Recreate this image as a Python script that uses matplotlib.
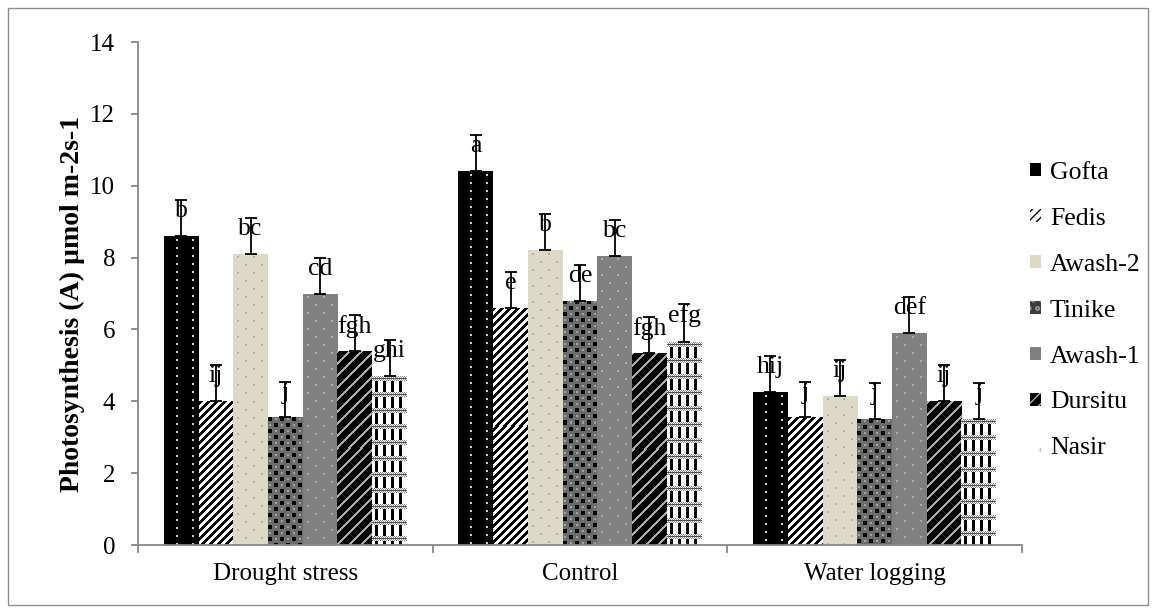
import matplotlib
matplotlib.use("Agg")
import matplotlib.pyplot as plt
import numpy as np
from matplotlib.colors import to_rgb
from matplotlib.patches import Patch, Rectangle

plt.rcParams["font.family"] = ["Liberation Serif", "DejaVu Serif"]

groups = ["Drought stress", "Control", "Water logging"]
cultivars = ["Gofta", "Fedis", "Awash-2", "Tinike", "Awash-1", "Dursitu", "Nasir"]

# photosynthesis per cultivar, one value per group
gofta = [8.6, 10.4, 4.25]
fedis = [4.0, 6.6, 3.55]
awash2 = [8.1, 8.2, 4.15]
tinike = [3.55, 6.8, 3.5]
awash1 = [7.0, 8.05, 5.9]
dursitu = [5.4, 5.35, 4.0]
nasir = [4.7, 5.65, 3.5]

# upper error bars, per group (cultivar order)
drought_err = [1.0, 1.0, 1.0, 1.0, 1.0, 1.0, 1.0]
control_err = [1.0, 1.0, 1.0, 1.0, 1.0, 1.0, 1.05]
waterlog_err = [1.0, 1.0, 1.0, 1.0, 1.0, 1.0, 1.0]

# mean separation letters, per group (cultivar order)
drought_letters = ["b", "ij", "bc", "j", "cd", "fgh", "ghi"]
control_letters = ["a", "e", "b", "de", "bc", "fgh", "efg"]
waterlog_letters = ["hij", "j", "ij", "j", "def", "ij", "j"]

series = [gofta, fedis, awash2, tinike, awash1, dursitu, nasir]
errs = np.array([drought_err, control_err, waterlog_err]).T
letters = np.array([drought_letters, control_letters, waterlog_letters]).T


def rgb(c):
    return np.array(to_rgb(c))


# small pixel tiles imitating the spreadsheet pattern fills
def tile_gofta():
    t = np.tile(rgb("#000000"), (8, 16, 1))
    t[3:5, 12:14] = rgb("#d0d0d0")
    return t


def tile_fedis():
    r, c = np.mgrid[0:8, 0:8]
    t = np.tile(rgb("#ffffff"), (8, 8, 1))
    t[(r + c) % 8 < 4] = rgb("#000000")
    return t


def tile_dots(bg, dot):
    t = np.tile(rgb(bg), (16, 16, 1))
    t[3:5, 4:6] = rgb(dot)
    t[11:13, 12:14] = rgb(dot)
    return t


def tile_tinike():
    t = np.tile(rgb("#6c6c6c"), (12, 12, 1))
    t[0:4, 0:4] = rgb("#000000")
    t[6:10, 6:10] = rgb("#000000")
    t[1:3, 7:9] = rgb("#a0a0a0")
    t[7:9, 1:3] = rgb("#a0a0a0")
    return t


def tile_dursitu():
    r, c = np.mgrid[0:12, 0:12]
    t = np.tile(rgb("#000000"), (12, 12, 1))
    t[(r + c) % 12 < 3] = rgb("#a8a8a8")
    return t


def tile_nasir():
    t = np.tile(rgb("#ffffff"), (16, 16, 1))
    r, c = np.mgrid[0:5, 0:16]
    band = np.where(((r + c) % 2 == 0)[..., None], rgb("#8a8a8a"), rgb("#ffffff"))
    band[2] = rgb("#505050")
    t[0:5] = band
    t[5:16, 3:6] = rgb("#000000")
    t[5:16, 11:14] = rgb("#000000")
    return t


tiles = [
    tile_gofta(),
    tile_fedis(),
    tile_dots("#ddd9c4", "#9bb7d6"),
    tile_tinike(),
    tile_dots("#808080", "#aaaaaa"),
    tile_dursitu(),
    tile_nasir(),
]

fig = plt.figure(figsize=(11.56, 6.13), dpi=100)
ax = fig.add_axes([138 / 1156, 1 - 545 / 613, (1022 - 138) / 1156, (545 - 42) / 613])
ax.set_xlim(-0.5, 2.5)
ax.set_ylim(0, 14)

n = len(cultivars)
bw = 0.825 / n
x = np.arange(len(groups))

for i, vals in enumerate(series):
    xs = x + (i - (n - 1) / 2) * bw
    bars = ax.bar(xs, vals, bw, color="none", linewidth=0, zorder=2)
    for rect in bars:
        x0, y0 = rect.get_x(), rect.get_y()
        x1, y1 = x0 + rect.get_width(), y0 + rect.get_height()
        (px0, py0), (px1, py1) = ax.transData.transform([(x0, y0), (x1, y1)])
        w = max(1, int(round(px1 - px0)))
        h = max(1, int(round(py1 - py0)))
        t = tiles[i]
        img = np.tile(t, (h // t.shape[0] + 1, w // t.shape[1] + 1, 1))[:h, :w]
        im = ax.imshow(img, extent=(x0, x1, y0, y1), interpolation="nearest",
                       aspect="auto", zorder=1.5)
        im.set_clip_path(rect)
    ax.errorbar(xs, vals, yerr=[np.zeros(len(vals)), errs[i]], fmt="none",
                ecolor="black", elinewidth=1.3, capsize=4, capthick=1.3, zorder=3)
    for xv, v, e, lab in zip(xs, vals, errs[i], letters[i]):
        ax.text(xv, v + e, lab, ha="center", va="top", fontsize=18.5, zorder=4)

ax.set_xlim(-0.5, 2.5)
ax.set_ylim(0, 14)
ax.set_yticks(np.arange(0, 15, 2))
ax.set_xticks(x)
ax.set_xticklabels(groups)
ax.set_xticks([-0.5, 0.5, 1.5, 2.5], minor=True)
ax.tick_params(axis="x", which="major", length=0, pad=13, labelsize=18)
ax.tick_params(axis="x", which="minor", length=6, width=1.3, color="#868686")
ax.tick_params(axis="y", length=5, width=1.3, color="#868686", pad=11.5, labelsize=18)

for side in ["top", "right"]:
    ax.spines[side].set_visible(False)
for side in ["left", "bottom"]:
    ax.spines[side].set_color("#868686")
    ax.spines[side].set_linewidth(1.3)

ax.set_ylabel("Photosynthesis (A) µmol m-2s-1", fontsize=20, fontweight="bold")
ax.yaxis.set_label_coords(-0.06, 0.48)

handles = [
    Patch(facecolor="black", edgecolor="black", linewidth=0),
    Patch(facecolor="white", edgecolor="black", hatch="////", linewidth=0),
    Patch(facecolor="#ddd9c4", linewidth=0),
    Patch(facecolor="#3c3c3c", edgecolor="#8a8a8a", hatch="oo", linewidth=0),
    Patch(facecolor="#808080", linewidth=0),
    Patch(facecolor="black", edgecolor="#a8a8a8", hatch="///", linewidth=0),
    Patch(facecolor="white", edgecolor="#bbbbbb", hatch=".", linewidth=0),
]
fig.legend(handles, cultivars, loc="upper left", bbox_to_anchor=(1030 / 1156, 1 - 162 / 613),
           frameon=False, fontsize=18.5, handlelength=0.42, handleheight=0.42,
           handletextpad=0.35, labelspacing=0.93, borderpad=0, borderaxespad=0)

fig.patches.append(Rectangle((8 / 1156, 8 / 613), 1140 / 1156, 597 / 613,
                             transform=fig.transFigure, fill=False,
                             edgecolor="#8c8c8c", linewidth=1))

fig.savefig("out.png", dpi=100)
